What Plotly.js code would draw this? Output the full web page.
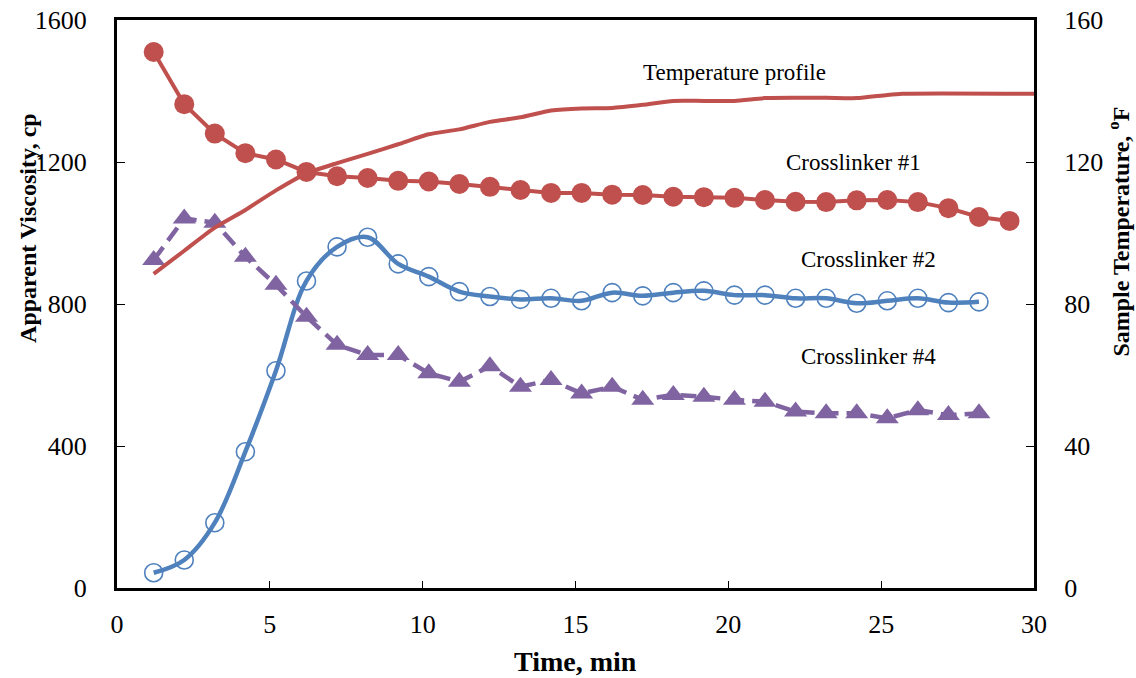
<!DOCTYPE html>
<html>
<head>
<meta charset="utf-8">
<script src="https://cdn.plot.ly/plotly-3.0.1.min.js"></script>
<style>html,body{margin:0;padding:0;background:#fff;}#chart{width:1136px;height:678px;}</style>
</head>
<body>
<div id="chart"></div>
<script>
// Time (min)
const timeX1 = [1.2, 2.2, 3.2, 4.2, 5.2, 6.2, 7.2, 8.2, 9.2, 10.2, 11.2, 12.2, 13.2, 14.2, 15.2, 16.2, 17.2, 18.2, 19.2, 20.2, 21.2, 22.2, 23.2, 24.2, 25.2, 26.2, 27.2, 28.2, 29.2];
const timeX2 = [1.2, 2.2, 3.2, 4.2, 5.2, 6.2, 7.2, 8.2, 9.2, 10.2, 11.2, 12.2, 13.2, 14.2, 15.2, 16.2, 17.2, 18.2, 19.2, 20.2, 21.2, 22.2, 23.2, 24.2, 25.2, 26.2, 27.2, 28.2];
// Apparent viscosity, cp
const crosslinker1 = [1510, 1363, 1280, 1225, 1207, 1172, 1160, 1155, 1147, 1145, 1138, 1130, 1121, 1113, 1113, 1108, 1107, 1102, 1101, 1099, 1093, 1088, 1087, 1092, 1093, 1087, 1070, 1045, 1034];
const crosslinker2 = [43, 79, 184, 384, 612, 865, 961, 988, 913, 877, 835, 821, 813, 816, 809, 832, 823, 832, 837, 825, 825, 816, 816, 802, 809, 816, 804, 806];
const crosslinker4 = [924, 1041, 1029, 933, 854, 764, 685, 656, 656, 605, 581, 625, 567, 586, 548, 567, 530, 544, 539, 530, 525, 497, 492, 492, 478, 501, 487, 492];
// Temperature profile, °F
const tempTime = [1.2, 2.2, 3.2, 4.2, 5.2, 6.2, 7.2, 8.2, 9.2, 10.2, 11.2, 12.2, 13.2, 14.2, 15.2, 16.2, 17.2, 18.2, 19.2, 20.2, 21.2, 22.2, 23.2, 24.2, 25.2, 25.7, 30];
const tempF = [88.5, 95, 101.5, 106.5, 112, 116.8, 119.7, 122.3, 125, 127.8, 129.2, 131.3, 132.6, 134.5, 135.1, 135.2, 136.1, 137.2, 137.2, 137.2, 138, 138.1, 138.1, 138, 138.9, 139.2, 139.2];

const xTicks = [0, 5, 10, 15, 20, 25, 30];
const yTicks = [0, 400, 800, 1200, 1600];
const y2Ticks = [0, 40, 80, 120, 160];

const red = '#C0504D', blue = '#4F81BD', purple = '#8064A2';
const serif = 'Liberation Serif, Times New Roman, serif';

const traces = [
  {x: tempTime, y: tempF, yaxis: 'y2', mode: 'lines', line: {color: red, width: 4, shape: 'spline', smoothing: 0.6}, hoverinfo: 'skip'},
  {x: timeX1, y: crosslinker1, mode: 'lines+markers', line: {color: red, width: 4}, marker: {symbol: 'circle', size: 20, color: red}},
  {x: timeX2, y: crosslinker2, mode: 'lines+markers', line: {color: blue, width: 4.5, shape: 'spline', smoothing: 1}, marker: {symbol: 'circle-open', size: 18, color: blue, line: {width: 1.6, color: blue}}},
  {x: timeX2, y: crosslinker4, mode: 'lines+markers', line: {color: purple, width: 4.5, dash: '16px,8px'}, marker: {symbol: 'triangle-up', size: 20, color: purple}}
];

const layout = {
  width: 1136, height: 678,
  margin: {l: 117, r: 102, t: 20, b: 90},
  paper_bgcolor: '#fff', plot_bgcolor: '#fff',
  showlegend: false,
  font: {family: serif, color: '#000'},
  xaxis: {
    range: [0, 30], tickvals: xTicks, ticktext: xTicks.map(String),
    ticks: 'inside', ticklen: 7, tickwidth: 1, tickcolor: '#000',
    showline: true, linewidth: 3, linecolor: '#000', mirror: true,
    showgrid: false, zeroline: false,
    tickfont: {family: serif, size: 26, color: '#000'}, ticklabelstandoff: 11
  },
  yaxis: {
    range: [0, 1600], tickvals: yTicks, ticktext: yTicks.map(String),
    ticks: 'inside', ticklen: 8, tickwidth: 1, tickcolor: '#000',
    showline: true, linewidth: 3, linecolor: '#000',
    showgrid: false, zeroline: false,
    tickfont: {family: serif, size: 26, color: '#000'}, ticklabelstandoff: 22
  },
  yaxis2: {
    range: [0, 160], tickvals: y2Ticks, ticktext: y2Ticks.map(String),
    overlaying: 'y', side: 'right',
    ticks: 'inside', ticklen: 8, tickwidth: 1, tickcolor: '#000',
    showline: true, linewidth: 3, linecolor: '#000',
    showgrid: false, zeroline: false,
    tickfont: {family: serif, size: 26, color: '#000'}, ticklabelstandoff: 22
  },
  annotations: [
    {text: 'Temperature profile', x: 20.2, y: 1453, xref: 'x', yref: 'y', xanchor: 'center', yanchor: 'middle', showarrow: false, font: {family: serif, size: 23, color: '#000'}},
    {text: 'Crosslinker #1', x: 24.1, y: 1200, xref: 'x', yref: 'y', xanchor: 'center', yanchor: 'middle', showarrow: false, font: {family: serif, size: 23, color: '#000'}},
    {text: 'Crosslinker #2', x: 24.6, y: 925, xref: 'x', yref: 'y', xanchor: 'center', yanchor: 'middle', showarrow: false, font: {family: serif, size: 23, color: '#000'}},
    {text: 'Crosslinker #4', x: 24.6, y: 651, xref: 'x', yref: 'y', xanchor: 'center', yanchor: 'middle', showarrow: false, font: {family: serif, size: 23, color: '#000'}},
    {text: '<b>Apparent Viscosity, cp</b>', x: -0.097, y: 0.634, xref: 'paper', yref: 'paper', xanchor: 'center', yanchor: 'middle', textangle: -90, showarrow: false, font: {family: serif, size: 24, color: '#000'}},
    {text: '<b>Sample Temperature, <sup>o</sup>F</b>', x: 1.093, y: 0.628, xref: 'paper', yref: 'paper', xanchor: 'center', yanchor: 'middle', textangle: -90, showarrow: false, font: {family: serif, size: 24, color: '#000'}},
    {text: '<b>Time, min</b>', x: 0.5, y: -0.13, xref: 'paper', yref: 'paper', xanchor: 'center', yanchor: 'middle', showarrow: false, font: {family: serif, size: 28, color: '#000'}}
  ]
};

Plotly.newPlot('chart', traces, layout, {displayModeBar: false, staticPlot: true});
</script>
</body>
</html>
